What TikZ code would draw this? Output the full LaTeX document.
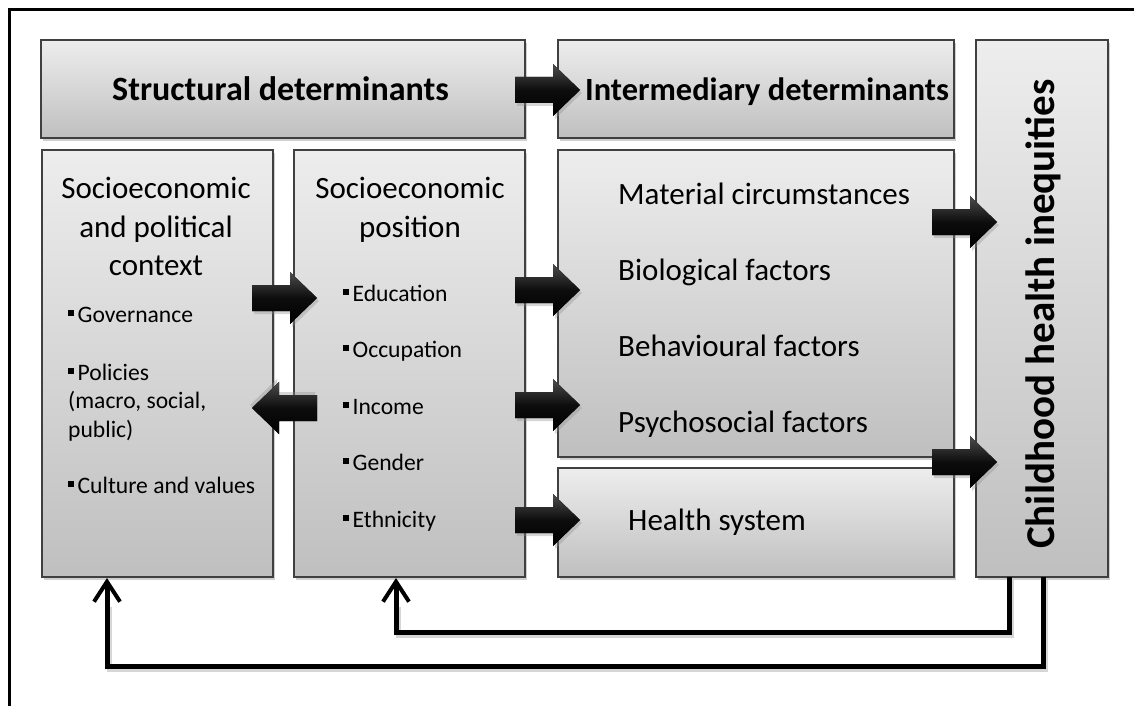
\documentclass[tikz,border=0pt]{standalone}
\usepackage{fontspec}
\setmainfont{Carlito}
\usetikzlibrary{arrows.meta,shadows,calc}
\newcommand\sqbul{\rule[0.25em]{0.25em}{0.25em}\hspace{0.15em}}
\tikzset{
  box/.style={draw=black!75, line width=1.2pt, top color=black!7, bottom color=black!25,
    inner sep=0pt, outer sep=0pt, anchor=north west,
    drop shadow={shadow xshift=2pt, shadow yshift=-3pt, opacity=0.3, fill=black!60}},
  head/.style={font=\fontsize{34}{38}\selectfont\bfseries, inner sep=0pt, anchor=base west},
  big/.style={font=\fontsize{31}{39}\selectfont, inner sep=0pt},
  item/.style={font=\fontsize{23.6}{29}\selectfont, inner sep=0pt, anchor=base west, align=left},
  blockarrow/.pic={
    \fill[black!45, opacity=0.35] (2,-10) -- (40,-10) -- (40,-23) -- (67,3) -- (40,29) -- (40,16) -- (2,16) -- cycle;
    \fill[top color=black!70, bottom color=black, middle color=black!95] (0,-13) -- (38,-13) -- (38,-26) -- (65,0) -- (38,26) -- (38,13) -- (0,13) -- cycle;
  },
  fb/.style={line width=5pt, line join=miter, -{Straight Barb[length=20pt,width=26pt,line width=4pt]}},
}
\begin{document}
\begin{tikzpicture}[x=1pt,y=-1pt]
\useasboundingbox (0,0) rectangle (1134,706);
\fill[white] (0,0) rectangle (1134,706);
% frame
\draw[line width=3pt] (9.5,706) -- (9.5,9.5) -- (1134,9.5);
% boxes
\node[box, minimum width=484pt, minimum height=98pt] (sd) at (41,40) {};
\node[box, minimum width=396pt, minimum height=98pt] (id) at (558,40) {};
\node[box, minimum width=132pt, minimum height=537pt] (chi) at (976,40) {};
\node[box, minimum width=231pt, minimum height=427pt] (ctx) at (42,150) {};
\node[box, minimum width=231pt, minimum height=427pt] (sep) at (294,150) {};
\node[box, minimum width=396pt, minimum height=307pt] (mat) at (558,150) {};
\node[box, minimum width=396pt, minimum height=109pt] (hs) at (558,468) {};
% headings
\node[head] (tsd) at (112,101) {Structural determinants};
\node[head, font=\fontsize{32.4}{38}\selectfont\bfseries] (tid) at (585,101) {Intermediary determinants};
\node[font=\fontsize{41}{46}\selectfont\bfseries, inner sep=0pt, rotate=90, anchor=base] (tchi) at (1054,314) {Childhood health inequities};
% context
\node[big, anchor=base] (c1) at (156,198) {Socioeconomic};
\node[big, anchor=base] (c2) at (156,237) {and political};
\node[big, anchor=base] (c3) at (156,275) {context};
\node[item] (g1) at (68,322) {\sqbul Governance};
\node[item] (g2) at (68,380) {\sqbul Policies};
\node[item] (g3) at (68,408) {(macro, social,};
\node[item] (g4) at (68,437) {public)};
\node[item] (g5) at (68,493) {\sqbul Culture and values};
% SEP
\node[big, anchor=base] (s1) at (410,198) {Socioeconomic};
\node[big, anchor=base] (s2) at (410,237) {position};
\node[item] (e1) at (343,301) {\sqbul Education};
\node[item] (e2) at (343,357) {\sqbul Occupation};
\node[item] (e3) at (343,414) {\sqbul Income};
\node[item] (e4) at (343,470) {\sqbul Gender};
\node[item] (e5) at (343,527) {\sqbul Ethnicity};
% intermediary
\node[big, anchor=base west] (m1) at (618,204) {Material circumstances};
\node[big, anchor=base west] (m2) at (618,280) {Biological factors};
\node[big, anchor=base west] (m3) at (618,356) {Behavioural factors};
\node[big, anchor=base west] (m4) at (618,432) {Psychosocial factors};
\node[big, anchor=base west] (h1) at (628,530) {Health system};
% block arrows
\pic (a1) at (515,90) {blockarrow};
\pic (a2) at (252,298) {blockarrow};
\pic[rotate=180] (a3) at (317,408) {blockarrow};
\pic (a4) at (515,290) {blockarrow};
\pic (a5) at (515,405) {blockarrow};
\pic (a6) at (515,520) {blockarrow};
\pic (a7) at (932,222) {blockarrow};
\pic (a8) at (932,462) {blockarrow};
% feedback
\draw[black!40, opacity=0.4, line width=5pt] ($(chi.south west)+(35,3)$) -- ++(0,55) -| ($(sep.south west)+(104,30)$);
\draw[black!40, opacity=0.4, line width=5pt] ($(chi.south west)+(69,3)$) -- ++(0,89) -| ($(ctx.south west)+(67,30)$);
\draw[fb] ($(chi.south west)+(33,0)$) -- ++(0,55) -| ($(sep.south west)+(102,1)$);
\draw[fb] ($(chi.south west)+(67,0)$) -- ++(0,89) -| ($(ctx.south west)+(65,1)$);
\end{tikzpicture}
\end{document}
